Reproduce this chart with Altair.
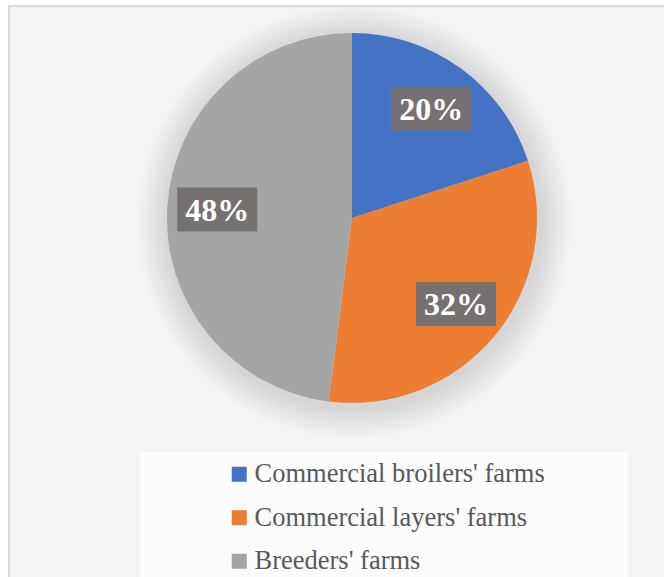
import altair as alt
import pandas as pd
import numpy as np

categories = ["Commercial broilers' farms", "Commercial layers' farms", "Breeders' farms"]
values = [20, 32, 48]
labels = ["20%", "32%", "48%"]
colors = ["#4472C4", "#ED7D31", "#A5A5A5"]

W, H = 664, 577
CX, CY, R = 352, 218, 185
LR = 135

df = pd.DataFrame({"category": categories, "value": values, "label": labels, "idx": range(len(values))})
tot = df["value"].sum()
cum = df["value"].cumsum() - df["value"] / 2
ang = cum / tot * 2 * np.pi
df["lx"] = CX + LR * np.sin(ang)
df["ly"] = CY - LR * np.cos(ang)
df["bx1"] = df["lx"] - 40
df["bx2"] = df["lx"] + 40
df["by1"] = df["ly"] - 22
df["by2"] = df["ly"] + 22

one = pd.DataFrame({"a": [0]})

bg = alt.Chart(one).mark_rect(fill="#f4f4f4", stroke="#d9d9d9", strokeWidth=2, opacity=1).encode(
    x=alt.value(9), x2=alt.value(700), y=alt.value(6), y2=alt.value(700)
)

shadows = [
    alt.Chart(one).mark_arc(radius=r, theta=0, theta2=6.2832, fill="#000000", opacity=0.012).encode(
        x=alt.value(CX + 2), y=alt.value(CY + 4)
    )
    for r in range(216, 186, -3)
]

pie = alt.Chart(df).mark_arc(radius=R).encode(
    theta=alt.Theta("value:Q", stack=True),
    color=alt.Color(
        "category:N",
        scale=alt.Scale(domain=categories, range=colors),
        sort=categories,
        legend=alt.Legend(
            title=None, orient="none", legendX=226, legendY=461,
            symbolType="square", symbolSize=225, symbolStrokeWidth=0,
            labelFont="Liberation Serif", labelFontSize=26.5, labelColor="#595959",
            rowPadding=16.5, labelOffset=2, labelLimit=500,
        ),
    ),
    order=alt.Order("idx:Q"),
    x=alt.value(CX), y=alt.value(CY),
)

boxes = alt.Chart(df).mark_rect(fill="#767171", opacity=1).encode(
    x=alt.X("bx1:Q", scale=None), x2="bx2", y=alt.Y("by1:Q", scale=None), y2="by2"
)

texts = alt.Chart(df).mark_text(
    font="Liberation Serif", fontSize=32, fontWeight="bold", color="white", baseline="middle", dy=1
).encode(x=alt.X("lx:Q", scale=None), y=alt.Y("ly:Q", scale=None), text="label:N")

legbox = alt.Chart(one).mark_rect(fill="#fcfcfc", opacity=1).encode(
    x=alt.value(140), x2=alt.value(628), y=alt.value(452), y2=alt.value(700)
)

chart = alt.layer(bg, *shadows, legbox, pie, boxes, texts).properties(
    width=W, height=H, padding=0, autosize=alt.AutoSizeParams(type="none"), background="white"
).configure_view(stroke=None)

chart.save("out.html", embed_options={"renderer": "svg", "actions": False})
